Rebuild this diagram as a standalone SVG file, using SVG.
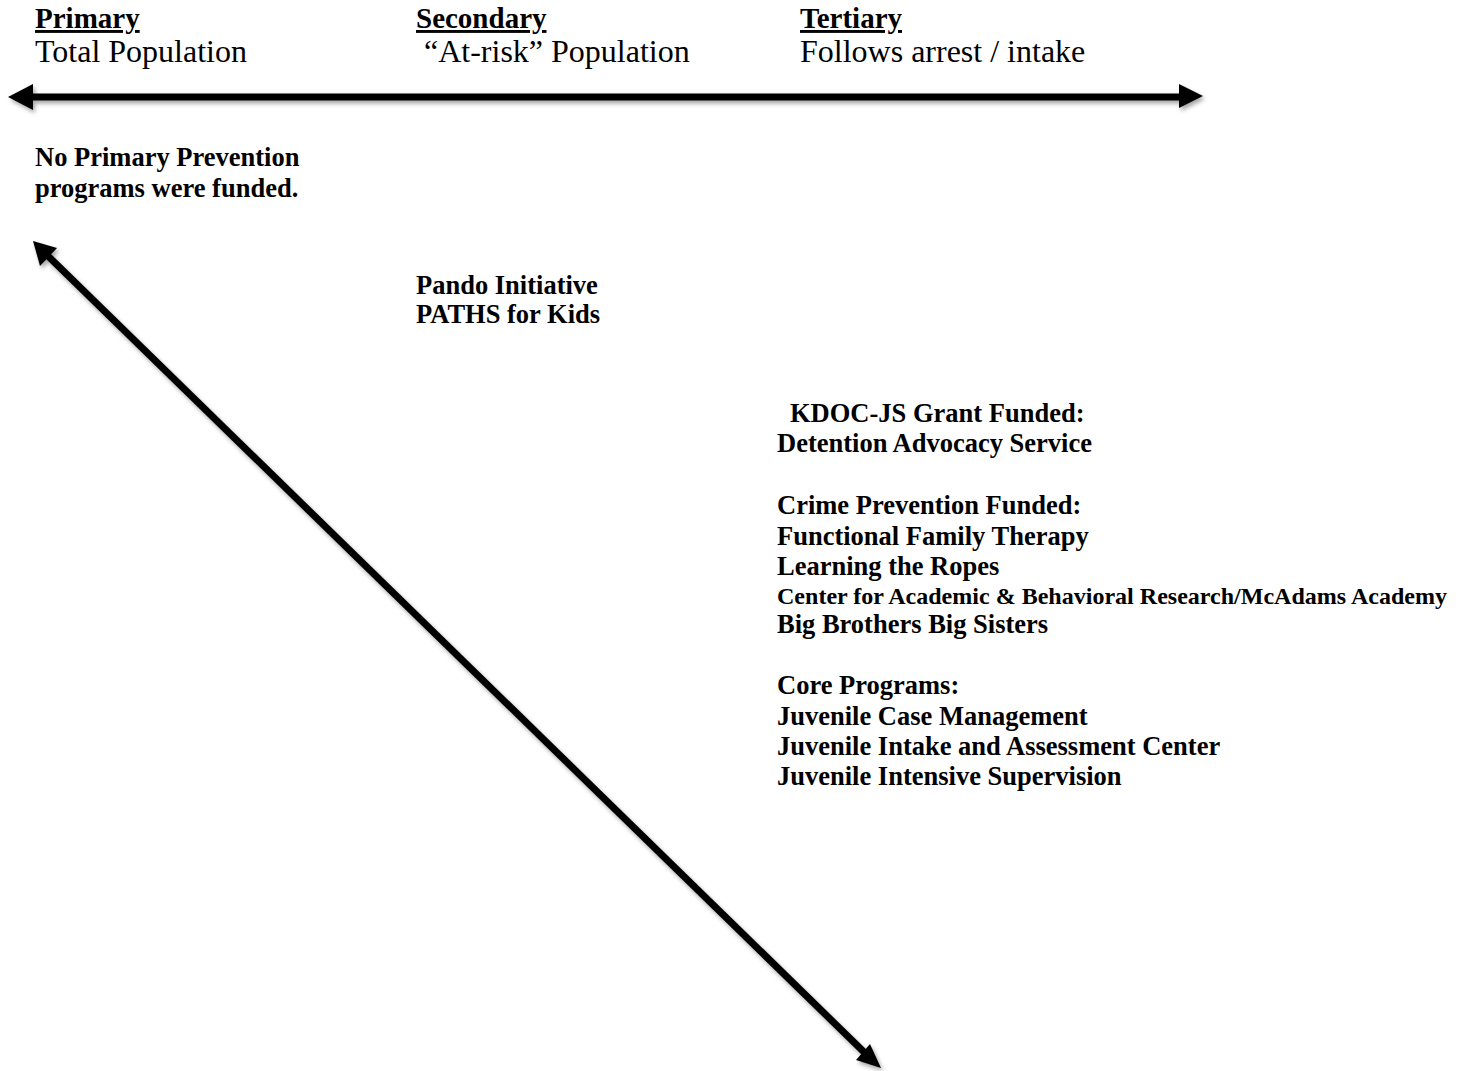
<svg xmlns="http://www.w3.org/2000/svg" width="1465" height="1071" viewBox="0 0 1465 1071">
<style>
.h{font-family:"Liberation Serif","Times New Roman",serif;font-size:32px;fill:#000}
.hu{font-weight:bold;font-size:29px;text-decoration:underline}
.b{font-family:"Liberation Serif","Times New Roman",serif;font-size:26.5px;font-weight:bold;fill:#000}
.s{font-size:23px}
.ln{stroke:#000;stroke-width:7;fill:none}
</style>
<defs>
<filter id="sh" x="-5%" y="-5%" width="110%" height="110%">
<feDropShadow dx="2" dy="3" stdDeviation="2" flood-color="#000" flood-opacity="0.35"/>
</filter>
</defs>
<g id="headers">
<g id="primary"><text class="h hu" x="35" y="28">Primary</text><text class="h" x="35" y="62">Total Population</text></g>
<g id="secondary"><text class="h hu" x="416" y="28">Secondary</text><text class="h" x="424" y="62">“At-risk” Population</text></g>
<g id="tertiary"><text class="h hu" x="800" y="28">Tertiary</text><text class="h" x="800" y="62">Follows arrest / intake</text></g>
</g>
<g id="connectors" filter="url(#sh)">
<line class="ln" x1="28" y1="97" x2="1184" y2="97"/>
<polygon points="8,97 33,84 33,110"/>
<polygon points="1203,96 1179,84 1179,108"/>
<line class="ln" x1="48" y1="256" x2="866" y2="1054"/>
<polygon points="33,241 57,248 40,266"/>
<polygon points="881,1068 870,1044 856,1060"/>
</g>
<g id="no-primary"><text class="b" x="35" y="166">No Primary Prevention</text><text class="b" x="35" y="197">programs were funded.</text></g>
<g id="secondary-programs"><text class="b" x="416" y="294">Pando Initiative</text><text class="b" x="416" y="323">PATHS for Kids</text></g>
<g id="tertiary-programs">
<text class="b" x="790" y="422">KDOC-JS Grant Funded:</text>
<text class="b" x="777" y="452">Detention Advocacy Service</text>
<text class="b" x="777" y="514">Crime Prevention Funded:</text>
<text class="b" x="777" y="545">Functional Family Therapy</text>
<text class="b" x="777" y="575">Learning the Ropes</text>
<text class="b s" x="777" y="604" textLength="670" lengthAdjust="spacingAndGlyphs">Center for Academic &amp; Behavioral Research/McAdams Academy</text>
<text class="b" x="777" y="633">Big Brothers Big Sisters</text>
<text class="b" x="777" y="694">Core Programs:</text>
<text class="b" x="777" y="725">Juvenile Case Management</text>
<text class="b" x="777" y="755">Juvenile Intake and Assessment Center</text>
<text class="b" x="777" y="785">Juvenile Intensive Supervision</text>
</g>
</svg>
